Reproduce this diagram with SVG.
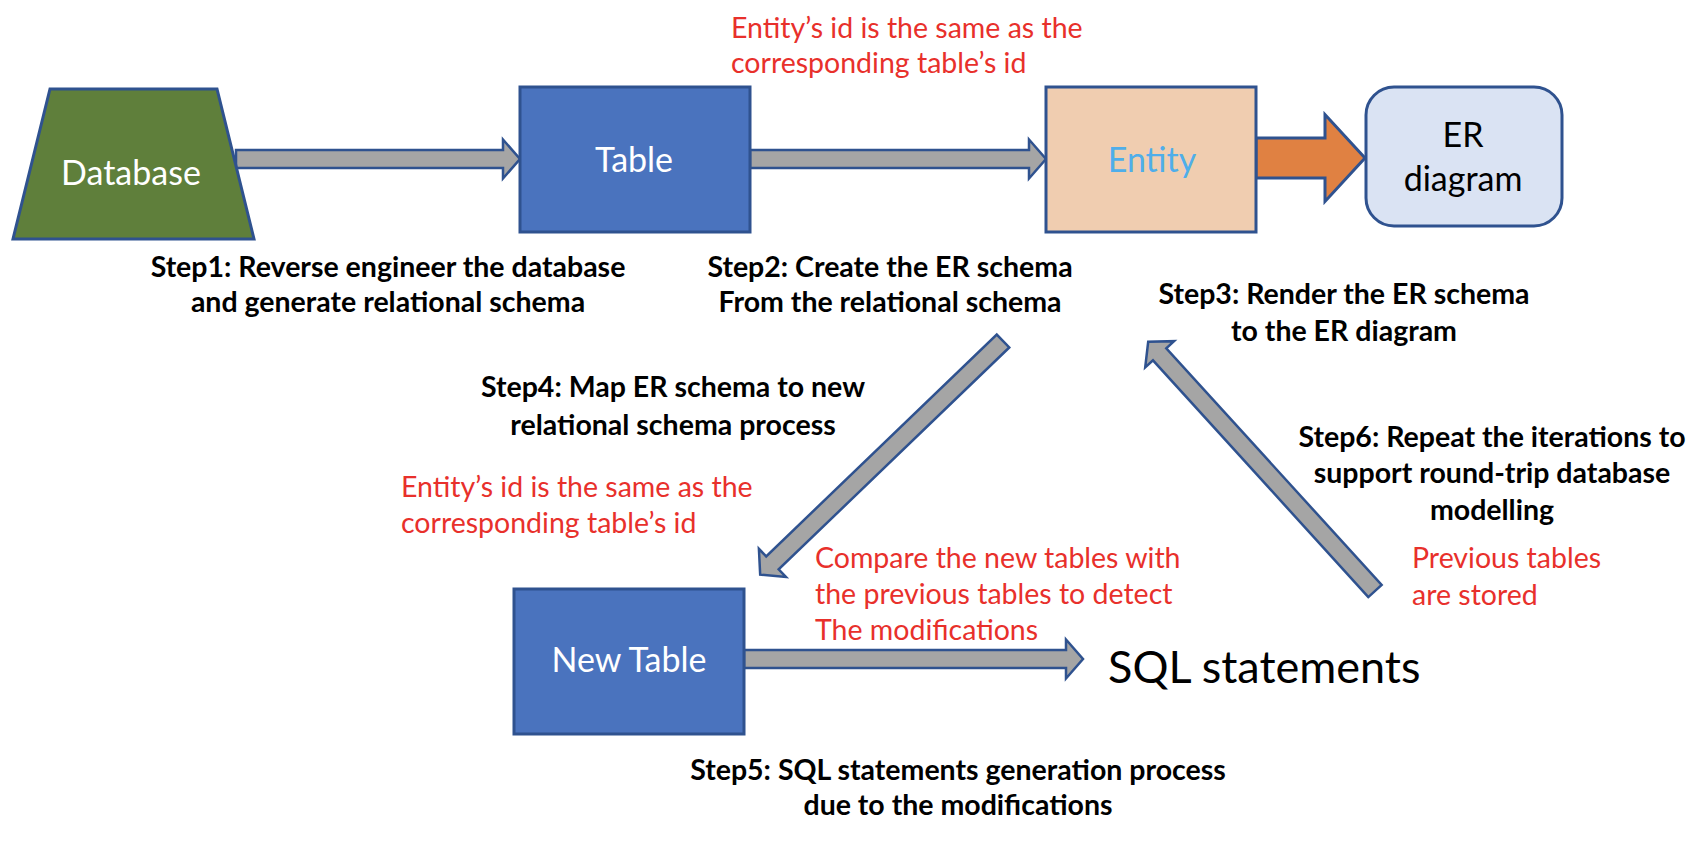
<svg xmlns="http://www.w3.org/2000/svg" width="1692" height="842" viewBox="0 0 1692 842">
<style>
  .node { stroke: #2F528F; stroke-width: 3; }
  .arrow { fill: #A5A5A5; stroke: #2F528F; stroke-width: 2.5; stroke-linejoin: miter; }
  .lbl { font-family: Lato, "Liberation Sans", sans-serif; font-size: 34px; text-anchor: middle; }
  .step { font-family: Lato, "Liberation Sans", sans-serif; font-weight: bold; font-size: 28.5px; fill: #000; text-anchor: middle; }
  .red { font-family: Lato, "Liberation Sans", sans-serif; font-size: 28.5px; fill: #E8302B; }
</style>
<rect width="1692" height="842" fill="#FFFFFF"/>

<g id="connectors">
  <path class="arrow" transform="translate(236,159)" d="M0,-9 H267 V-19.5 L284,0 L267,19.5 V9 H0 Z"/>
  <path class="arrow" transform="translate(750,159)" d="M0,-9 H279 V-19.5 L296,0 L279,19.5 V9 H0 Z"/>
  <path class="node" fill="#E08142" transform="translate(1256,158)" d="M0,-20 H69 V-43.5 L109,0 L69,43.5 V20 H0 Z"/>
  <path class="arrow" transform="translate(1003,341) rotate(136.1)" d="M0,-9 H320 V-19.5 L337,0 L320,19.5 V9 H0 Z"/>
  <path class="arrow" transform="translate(1375,591) rotate(-132.3)" d="M0,-9 H320 V-19.5 L337,0 L320,19.5 V9 H0 Z"/>
  <path class="arrow" transform="translate(744,659)" d="M0,-9 H322 V-19.5 L339,0 L322,19.5 V9 H0 Z"/>
</g>

<g id="database">
  <polygon class="node" fill="#5F7F3B" points="50,89 217,89 254,239 13,239"/>
  <text class="lbl" x="131" y="185" fill="#FFFFFF">Database</text>
</g>

<g id="table">
  <rect class="node" x="520" y="87" width="230" height="145" fill="#4A73BE"/>
  <text class="lbl" x="634" y="172" fill="#FFFFFF">Table</text>
</g>

<g id="entity">
  <rect class="node" x="1046" y="87" width="210" height="145" fill="#F0CDB0"/>
  <text class="lbl" x="1152" y="172" fill="#4FAEEA">Entity</text>
</g>

<g id="er-diagram">
  <rect class="node" x="1366" y="87" width="196" height="139" rx="28" fill="#DAE3F3"/>
  <text class="lbl" x="1463" y="147" fill="#000000">ER</text>
  <text class="lbl" x="1463" y="191" fill="#000000">diagram</text>
</g>

<g id="new-table">
  <rect class="node" x="514" y="589" width="230" height="145" fill="#4A73BE"/>
  <text class="lbl" x="629" y="672" fill="#FFFFFF">New Table</text>
</g>

<g id="sql-statements">
  <text x="1108" y="683" font-family="Lato, 'Liberation Sans', sans-serif" font-size="45" fill="#000000">SQL statements</text>
</g>

<g id="labels">
  <text class="red" x="731" y="38">Entity’s id is the same as the</text>
  <text class="red" x="731" y="73">corresponding table’s id</text>

  <text class="step" x="388" y="277">Step1: Reverse engineer the database</text>
  <text class="step" x="388" y="312">and generate relational schema</text>

  <text class="step" x="890" y="277">Step2: Create the ER schema</text>
  <text class="step" x="890" y="312">From the relational schema</text>

  <text class="step" x="1344" y="304">Step3: Render the ER schema</text>
  <text class="step" x="1344" y="341">to the ER diagram</text>

  <text class="step" x="673" y="397">Step4: Map ER schema to new</text>
  <text class="step" x="673" y="435">relational schema process</text>

  <text class="red" x="401" y="497">Entity’s id is the same as the</text>
  <text class="red" x="401" y="533">corresponding table’s id</text>

  <text class="step" x="1492" y="447">Step6: Repeat the iterations to</text>
  <text class="step" x="1492" y="483">support round-trip database</text>
  <text class="step" x="1492" y="520">modelling</text>

  <text class="red" x="1412" y="568">Previous tables</text>
  <text class="red" x="1412" y="605">are stored</text>

  <text class="red" x="815" y="568">Compare the new tables with</text>
  <text class="red" x="815" y="604">the previous tables to detect</text>
  <text class="red" x="815" y="640">The modifications</text>

  <text class="step" x="958" y="780">Step5: SQL statements generation process</text>
  <text class="step" x="958" y="815">due to the modifications</text>
</g>
</svg>
